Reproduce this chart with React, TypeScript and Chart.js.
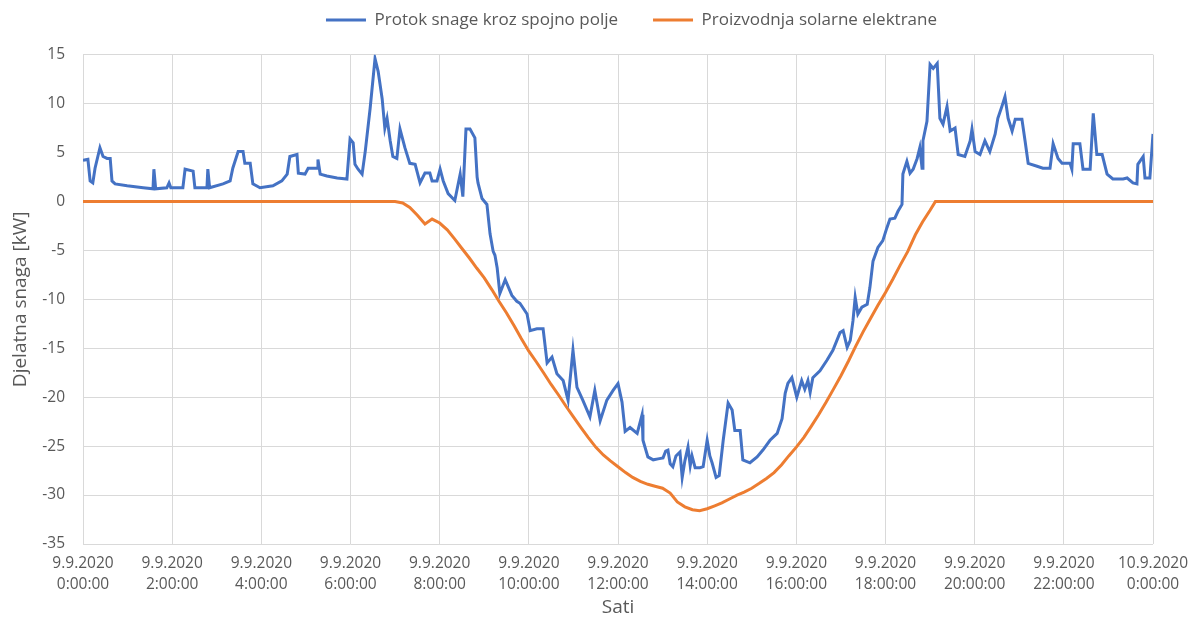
import React, { useEffect, useRef } from "react";
import { Chart, registerables } from "chart.js";

Chart.register(...registerables);

// X axis tick labels (every 2 hours)
const tickDates = ["9.9.2020","9.9.2020","9.9.2020","9.9.2020","9.9.2020","9.9.2020","9.9.2020","9.9.2020","9.9.2020","9.9.2020","9.9.2020","9.9.2020","10.9.2020"];
const tickTimes = ["0:00:00","2:00:00","4:00:00","6:00:00","8:00:00","10:00:00","12:00:00","14:00:00","16:00:00","18:00:00","20:00:00","22:00:00","0:00:00"];

// Series 1: power flow through the connection field (hours since 9.9.2020 0:00, kW)
const flowHours = [
  0.00,0.11,0.16,0.22,0.27,0.38,0.45,0.54,0.61,0.65,0.72,0.99,1.35,1.57,1.59,1.63,1.88,1.93,1.97,2.24,
  2.29,2.47,2.51,2.78,2.80,2.84,3.14,3.30,3.36,3.48,3.59,3.63,3.75,3.81,3.97,4.26,4.46,4.58,4.64,4.80,
  4.83,4.98,5.05,5.25,5.27,5.32,5.47,5.70,5.92,5.99,6.06,6.10,6.17,6.26,6.33,6.44,6.55,6.62,6.71,6.77,
  6.82,6.89,6.95,7.04,7.11,7.22,7.33,7.45,7.56,7.67,7.78,7.83,7.94,8.01,8.08,8.19,8.34,8.46,8.52,8.59,
  8.68,8.79,8.84,8.86,8.95,9.06,9.13,9.20,9.24,9.29,9.35,9.47,9.62,9.73,9.80,9.96,10.03,10.18,10.32,10.41,
  10.52,10.63,10.77,10.88,10.99,11.08,11.21,11.37,11.48,11.60,11.75,11.89,12.00,12.09,12.16,12.27,12.43,12.54,12.56,12.67,
  12.79,12.90,13.01,13.07,13.12,13.17,13.23,13.30,13.39,13.44,13.50,13.57,13.62,13.66,13.73,13.84,13.91,14.00,14.06,14.11,
  14.20,14.27,14.36,14.47,14.56,14.62,14.74,14.80,
  14.96,15.12,15.25,15.41,15.57,15.68,15.75,15.81,15.90,16.01,16.12,16.19,16.26,16.31,16.37,16.53,16.69,16.82,16.98,17.05,
  17.14,17.21,17.27,17.32,17.38,17.47,17.59,17.65,17.72,17.83,17.94,18.03,18.10,18.21,18.28,18.37,18.39,18.48,18.55,18.62,
  18.71,18.77,18.82,18.84,18.93,19.00,19.07,19.16,19.22,19.29,19.38,19.45,19.56,19.63,19.78,19.90,19.94,20.01,20.12,20.23,
  20.34,20.46,20.52,20.61,20.68,20.75,20.84,20.91,21.06,21.13,21.20,21.40,21.53,21.69,21.76,21.87,21.96,22.14,22.18,22.21,
  22.36,22.43,22.59,22.66,22.74,22.86,22.97,23.10,23.33,23.42,23.55,23.64,23.66,23.78,23.82,23.93,24.00
];
const flowValues = [
  4.2,4.3,2.1,1.9,3.4,5.5,4.6,4.4,4.4,2.1,1.8,1.6,1.4,1.3,3.3,1.3,1.4,1.9,1.4,1.4,
  3.3,3.1,1.4,1.4,3.3,1.4,1.8,2.1,3.4,5.1,5.1,3.9,3.9,1.8,1.4,1.6,2.1,2.8,4.6,4.8,
  2.9,2.8,3.4,3.4,4.3,2.8,2.6,2.4,2.3,6.4,6.0,3.8,3.3,2.8,5.1,9.5,14.6,13.3,10.5,7.5,
  8.5,6.2,4.6,4.4,7.4,5.5,3.9,3.8,1.9,2.9,2.9,2.1,2.1,3.3,2.1,0.8,0.1,2.8,0.5,7.4,
  7.4,6.5,2.5,1.9,0.3,-0.3,-3.3,-5.1,-5.5,-6.8,-9.4,-8.0,-9.6,-10.2,-10.4,-11.5,-13.2,-13.0,-13.0,-16.5,
  -15.9,-17.6,-18.3,-20.3,-15.2,-19.0,-20.3,-22.0,-19.3,-22.4,-20.3,-19.3,-18.6,-20.5,-23.5,-23.1,-23.7,-21.8,-24.4,-26.1,
  -26.4,-26.3,-26.2,-25.5,-25.4,-26.8,-27.1,-26.0,-25.6,-28.2,-26.5,-25.1,-27.0,-26.0,-27.2,-27.2,-27.1,-24.4,-26.0,-26.7,
  -28.2,-28.0,-24.4,-20.6,-21.3,-23.4,-23.4,-26.4,
  -26.7,-26.1,-25.4,-24.4,-23.7,-22.2,-19.6,-18.6,-18.0,-20.0,-18.3,-19.2,-18.3,-19.5,-18.0,-17.3,-16.2,-15.2,-13.4,-13.2,
  -14.9,-14.2,-12.2,-9.8,-11.5,-10.8,-10.5,-8.8,-6.1,-4.7,-4.0,-2.7,-1.8,-1.7,-1.0,-0.3,2.8,4.1,2.9,3.3,
  4.4,5.5,3.4,6.2,8.2,14.0,13.6,14.1,8.5,7.9,9.7,7.2,7.5,4.8,4.6,6.2,7.4,5.1,4.8,6.2,
  5.1,6.9,8.5,9.7,10.7,8.5,7.2,8.4,8.4,6.2,3.9,3.6,3.4,3.4,5.9,4.4,3.9,3.9,3.3,5.9,
  5.9,3.3,3.3,9.0,4.8,4.8,2.8,2.3,2.3,2.4,1.9,1.8,3.8,4.6,2.4,2.4,6.9
];

// Series 2: solar plant production (hours, kW)
const solarHours = [
  0.00,7.00,7.17,7.33,7.50,7.67,7.83,8.00,8.17,8.33,8.50,8.67,8.83,9.00,9.17,9.33,9.50,9.67,9.83,10.00,
  10.17,10.33,10.50,10.67,10.83,11.00,11.17,11.33,11.50,11.67,11.83,12.00,12.17,12.33,12.50,12.67,12.83,13.00,13.17,13.33,
  13.50,13.67,13.83,14.00,14.17,14.33,14.50,14.67,14.83,15.00,15.17,15.33,15.50,15.67,15.83,16.00,16.17,16.33,16.50,16.67,
  16.83,17.00,17.17,17.33,17.50,17.67,17.83,18.00,18.17,18.33,18.50,18.67,18.83,19.00,19.12,24.00
];
const solarValues = [
  0,0,-0.15,-0.6,-1.4,-2.3,-1.8,-2.2,-2.9,-3.8,-4.8,-5.8,-6.8,-7.8,-9.0,-10.2,-11.4,-12.7,-14.0,-15.3,
  -16.4,-17.5,-18.7,-19.8,-20.9,-22.0,-23.1,-24.1,-25.1,-25.9,-26.5,-27.1,-27.7,-28.2,-28.6,-28.9,-29.1,-29.3,-29.8,-30.7,
  -31.2,-31.5,-31.6,-31.4,-31.1,-30.8,-30.4,-30.0,-29.7,-29.3,-28.8,-28.3,-27.7,-26.9,-26.0,-25.1,-24.1,-23.0,-21.8,-20.5,
  -19.2,-17.8,-16.3,-14.8,-13.3,-11.9,-10.6,-9.3,-7.9,-6.5,-5.1,-3.4,-2.1,-0.9,0,0
];

const seriesNames = ["Protok snage kroz spojno polje", "Proizvodnja solarne elektrane"];
const yTitle = "Djelatna snaga [kW]";
const xTitle = "Sati";

const FONT = "'Open Sans', 'Noto Sans', sans-serif";
const TEXT = "#595959";
const GRID = "#d9d9d9";
const LEGEND_SIZE = 17;
const LEGEND_PAD = 35;
const LEGEND_SHIFT = 55;

// Moves the legend row horizontally (the reference legend sits right of centre)
const legendShift = {
  id: "legendShift",
  afterLayout(chart: any) {
    const lg = chart.legend;
    if (lg) {
      lg.left += LEGEND_SHIFT;
      lg.right += LEGEND_SHIFT;
    }
  },
};

export default function App() {
  const ref = useRef<HTMLCanvasElement | null>(null);

  useEffect(() => {
    document.body.style.margin = "0";
    const canvas = ref.current;
    if (!canvas) return;
    const chart = new Chart(canvas, {
      type: "line",
      data: {
        datasets: [
          {
            label: seriesNames[0],
            data: flowHours.map((h, i) => ({ x: h, y: flowValues[i] })),
            borderColor: "#4472C4",
            backgroundColor: "#4472C4",
            borderWidth: 3,
            pointRadius: 0,
            tension: 0,
          },
          {
            label: seriesNames[1],
            data: solarHours.map((h, i) => ({ x: h, y: solarValues[i] })),
            borderColor: "#ED7D31",
            backgroundColor: "#ED7D31",
            borderWidth: 3,
            pointRadius: 0,
            tension: 0,
          },
        ],
      },
      plugins: [legendShift],
      options: {
        animation: false,
        responsive: false,
        maintainAspectRatio: false,
        layout: { padding: { top: 20 - LEGEND_PAD - LEGEND_SIZE / 2, right: 40, left: 0, bottom: 0 } },
        plugins: {
          legend: {
            position: "top",
            labels: {
              usePointStyle: true,
              pointStyle: "line",
              pointStyleWidth: 40,
              boxHeight: 3,
              padding: LEGEND_PAD,
              color: TEXT,
              font: { family: FONT, size: LEGEND_SIZE },
            },
          },
          subtitle: {
            display: true,
            text: " ",
            weight: 500,
            font: { size: 1 },
            padding: { top: 15, bottom: 0 },
          },
          tooltip: { enabled: false },
        },
        scales: {
          x: {
            type: "linear",
            min: 0,
            max: 24,
            afterFit: (s: any) => { s.height = 75; s.paddingRight = 40; },
            grid: { color: GRID, lineWidth: 1, drawTicks: false },
            border: { display: false },
            ticks: {
              stepSize: 2,
              autoSkip: false,
              maxRotation: 0,
              padding: 10,
              color: TEXT,
              font: { family: FONT, size: 15.5, lineHeight: 1.3 },
              callback: (_v: any, i: number) => [tickDates[i], tickTimes[i]],
            },
            title: {
              display: true,
              text: xTitle,
              color: TEXT,
              font: { family: FONT, size: 19 },
              padding: { top: 0, bottom: 0 },
            },
          },
          y: {
            min: -35,
            max: 15,
            afterFit: (s: any) => { s.width = 83; },
            grid: { color: GRID, lineWidth: 1, drawTicks: false },
            border: { display: false },
            ticks: {
              stepSize: 5,
              padding: 18,
              color: TEXT,
              font: { family: FONT, size: 15.5 },
            },
            title: {
              display: true,
              text: yTitle,
              color: TEXT,
              font: { family: FONT, size: 19 },
              padding: { top: 9, bottom: 4 },
            },
          },
        },
      },
    });
    return () => chart.destroy();
  }, []);

  return (
    <div style={{ width: 1193, height: 619 }}>
      <canvas ref={ref} width={1193} height={619} style={{ display: "block" }} />
    </div>
  );
}
